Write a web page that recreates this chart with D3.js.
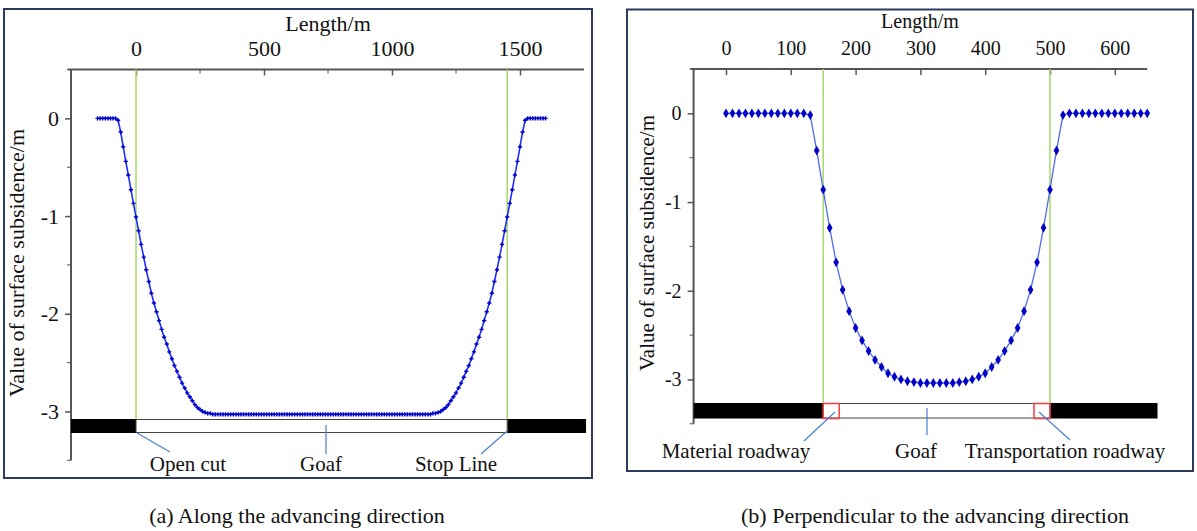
<!DOCTYPE html>
<html>
<head>
<meta charset="utf-8">
<script src="https://cdn.jsdelivr.net/npm/d3@7"></script>
<style>
  body { margin: 0; background: #fff; }
  svg text { font-family: "Liberation Serif", "Times New Roman", "DejaVu Serif", serif; fill: #111; }
</style>
</head>
<body>
<script>
// (a) along the advancing direction: x from -150 m, every 10 m
var startA = -150, stepA = 10;
var subsA = [
  0, 0, 0, 0, 0, 0, 0, 0, -0.02, -0.14,
  -0.29, -0.44, -0.58, -0.73, -0.87, -1.01, -1.15, -1.29, -1.42, -1.55,
  -1.67, -1.79, -1.89, -1.98, -2.07, -2.16, -2.24, -2.31, -2.39, -2.46,
  -2.53, -2.59, -2.65, -2.71, -2.76, -2.81, -2.85, -2.89, -2.93, -2.96,
  -2.98, -3.00, -3.01, -3.02, -3.02,
  -3.03, -3.03, -3.03, -3.03, -3.03, -3.03, -3.03, -3.03, -3.03, -3.03,
  -3.03, -3.03, -3.03, -3.03, -3.03, -3.03, -3.03, -3.03, -3.03, -3.03,
  -3.03, -3.03, -3.03, -3.03, -3.03, -3.03, -3.03, -3.03, -3.03, -3.03,
  -3.03, -3.03, -3.03, -3.03, -3.03, -3.03, -3.03, -3.03, -3.03, -3.03,
  -3.03, -3.03, -3.03, -3.03, -3.03, -3.03, -3.03, -3.03, -3.03, -3.03,
  -3.03, -3.03, -3.03, -3.03, -3.03, -3.03, -3.03, -3.03, -3.03, -3.03,
  -3.03, -3.03, -3.03, -3.03, -3.03, -3.03, -3.03, -3.03, -3.03, -3.03,
  -3.03, -3.03, -3.03, -3.03, -3.03, -3.03, -3.03, -3.03, -3.03, -3.03,
  -3.03, -3.03, -3.03, -3.03, -3.03, -3.03,
  -3.02, -3.02, -3.01, -3.00, -2.98,
  -2.96, -2.93, -2.89, -2.85, -2.81, -2.76, -2.71, -2.65, -2.59, -2.53,
  -2.46, -2.39, -2.31, -2.24, -2.16, -2.07, -1.98, -1.89, -1.79, -1.67,
  -1.55, -1.42, -1.29, -1.15, -1.01, -0.87, -0.73, -0.58, -0.44, -0.29,
  -0.14, -0.02, 0, 0, 0, 0, 0, 0, 0, 0
];
var ticksA = [0, 500, 1000, 1500];
var minorA = [250, 750, 1250];
var linesA = [0, 1450];   // open cut, stop line

// (b) perpendicular to the advancing direction: x from 0 m, every 10 m
var startB = 0, stepB = 10;
var subsB = [
  0, 0, 0, 0, 0, 0, 0, 0, 0, 0,
  0, 0, 0, -0.02, -0.42, -0.86, -1.29, -1.68, -1.99, -2.23,
  -2.42, -2.56, -2.68, -2.78, -2.86, -2.93, -2.97, -3.00, -3.02, -3.03,
  -3.04, -3.04, -3.04, -3.04, -3.04, -3.04, -3.03, -3.02, -3.00, -2.97,
  -2.93, -2.86, -2.78, -2.68, -2.56, -2.42, -2.23, -1.99, -1.68, -1.29,
  -0.86, -0.42, -0.02, 0, 0, 0, 0, 0, 0, 0,
  0, 0, 0, 0, 0, 0
];
var ticksB = [0, 100, 200, 300, 400, 500, 600];
var linesB = [150, 500];  // material roadway, transportation roadway

var yTicks = [0, -1, -2, -3];
var yMinor = [0.5, -0.5, -1.5, -2.5, -3.5];

var serif = "'Liberation Serif', 'Times New Roman', 'DejaVu Serif', serif";

var svg = d3.select("body").append("svg")
    .attr("width", 1197)
    .attr("height", 531);

var axisColor = "#555";
var green = "#a6d96a";
var fmt = function (d) { return String(d); };   // plain hyphen for negatives

function panel(o) {
  var g = svg.append("g");
  var x = d3.scaleLinear().domain(o.xDomain).range(o.xRange);
  var y = d3.scaleLinear().domain([0.5, -3.5]).range(o.yRange);

  g.append("rect")
      .attr("x", o.box[0]).attr("y", o.box[1])
      .attr("width", o.box[2]).attr("height", o.box[3])
      .attr("fill", "none").attr("stroke", "#2c3b5c").attr("stroke-width", 2);

  // top axis
  var top = g.append("g").attr("transform", "translate(0," + o.yRange[0] + ")");
  top.call(d3.axisTop(x).tickValues(o.ticks).tickSize(-6).tickPadding(14).tickFormat(fmt));
  top.attr("font-family", serif);
  if (o.minor) {
    top.selectAll(".minor").data(o.minor).enter().append("line")
        .attr("x1", function (d) { return x(d); }).attr("x2", function (d) { return x(d); })
        .attr("y1", 0).attr("y2", 4).attr("stroke", axisColor);
  }
  top.select(".domain").attr("stroke", axisColor).attr("stroke-width", 2)
      .attr("d", "M" + (o.xRange[0] - 3) + ",0H" + o.xRange[1]);
  top.selectAll(".tick line").attr("stroke", axisColor).attr("stroke-width", 1.5);
  top.selectAll(".tick text").style("font-size", o.font + "px").attr("fill", "#111");

  g.append("text").attr("x", o.titleX).attr("y", o.titleY)
      .attr("text-anchor", "middle").style("font-size", o.font + "px").text("Length/m");

  // left axis
  var left = g.append("g").attr("transform", "translate(" + o.xRange[0] + ",0)");
  left.call(d3.axisLeft(y).tickValues(yTicks).tickSize(6).tickPadding(6).tickFormat(fmt));
  left.attr("font-family", serif);
  left.selectAll(".minor").data(yMinor).enter().append("line")
      .attr("y1", function (d) { return y(d); }).attr("y2", function (d) { return y(d); })
      .attr("x1", 0).attr("x2", -4).attr("stroke", axisColor);
  left.select(".domain").attr("stroke", axisColor).attr("stroke-width", 2)
      .attr("d", "M0," + o.yRange[0] + "V" + o.yRange[1]);
  left.selectAll(".tick line").attr("stroke", axisColor).attr("stroke-width", 1.5);
  left.selectAll(".tick text").style("font-size", o.font + "px").attr("fill", "#111");

  g.append("text")
      .attr("transform", "translate(" + o.ylabX + "," + o.ylabY + ") rotate(-90)")
      .attr("text-anchor", "middle").style("font-size", o.ylabFont + "px")
      .text("Value of surface subsidence/m");

  // strata bar
  var barTop = o.bar[0], barBot = o.bar[1];
  g.append("rect").attr("x", o.xRange[0]).attr("y", barTop)
      .attr("width", x(o.lines[0]) - o.xRange[0]).attr("height", barBot - barTop).attr("fill", "#000");
  g.append("rect").attr("x", x(o.lines[1])).attr("y", barTop)
      .attr("width", o.barEnd - x(o.lines[1])).attr("height", barBot - barTop).attr("fill", "#000");
  g.append("rect").attr("x", x(o.lines[0])).attr("y", barTop + 0.5)
      .attr("width", x(o.lines[1]) - x(o.lines[0])).attr("height", barBot - barTop - 1)
      .attr("fill", "#fff").attr("stroke", "#444").attr("stroke-width", 1);

  // green boundary lines
  g.selectAll(".gl").data(o.lines).enter().append("line")
      .attr("x1", function (d) { return x(d); }).attr("x2", function (d) { return x(d); })
      .attr("y1", o.yRange[0]).attr("y2", barTop)
      .attr("stroke", green).attr("stroke-width", 1.5);

  // curve
  var pts = o.values.map(function (v, i) { return { x: o.start + i * o.step, y: v }; });
  g.append("path").datum(pts)
      .attr("fill", "none").attr("stroke", o.lineColor).attr("stroke-width", o.lineWidth)
      .attr("d", d3.line().x(function (d) { return x(d.x); }).y(function (d) { return y(d.y); }));
  g.selectAll(".pt").data(pts).enter().append("path")
      .attr("transform", function (d) { return "translate(" + x(d.x) + "," + y(d.y) + ")"; })
      .attr("d", d3.symbol().type(o.symbol).size(o.symbolSize))
      .attr("fill", "#0000c8");

  return { g: g, x: x, y: y };
}

var a = panel({
  box: [4, 9, 588, 469],
  xDomain: [-254, 1750], xRange: [71, 584], yRange: [69.5, 460.3],
  ticks: ticksA, minor: minorA, lines: linesA,
  font: 22, ylabFont: 22, titleX: 328, titleY: 31, ylabX: 24, ylabY: 263,
  bar: [419, 433], barEnd: 586,
  values: subsA, start: startA, step: stepA,
  lineColor: "#1f2fff", lineWidth: 1.6, symbol: d3.symbolCross, symbolSize: 10
});

var b = panel({
  box: [627, 9.5, 566, 461.5],
  xDomain: [-50, 650], xRange: [693.6, 1147.2], yRange: [69, 423.8],
  ticks: ticksB, minor: null, lines: linesB,
  font: 20, ylabFont: 21, titleX: 920, titleY: 28, ylabX: 654, ylabY: 243,
  bar: [403, 418.5], barEnd: 1157.5,
  values: subsB, start: startB, step: stepB,
  lineColor: "#4d6bea", lineWidth: 1.3, symbol: d3.symbolDiamond, symbolSize: 28
});

// roadway squares in (b)
b.g.selectAll(".road").data([linesB[0], linesB[1]]).enter().append("rect")
    .attr("x", function (d, i) { return i === 0 ? b.x(d) : b.x(d) - 16; })
    .attr("y", 403.5).attr("width", 16).attr("height", 15)
    .attr("fill", "none").attr("stroke", "#f04040").attr("stroke-width", 1.5);

// leader lines and labels
var leader = "#4a7fd0";
function label(g, x1, y1, x2, y2, tx, ty, txt, fs) {
  g.append("line").attr("x1", x1).attr("y1", y1).attr("x2", x2).attr("y2", y2)
      .attr("stroke", leader).attr("stroke-width", 1.2);
  g.append("text").attr("x", tx).attr("y", ty).attr("text-anchor", "middle")
      .style("font-size", fs + "px").text(txt);
}
label(a.g, a.x(0) + 1, 433, 170, 452, 188, 471, "Open cut", 21);
label(a.g, 326, 425, 326, 454, 321, 471, "Goaf", 21);
label(a.g, a.x(1450), 431, 481, 454, 456, 471, "Stop Line", 21);

label(b.g, 835, 412, 804, 441, 736, 458, "Material roadway", 21);
label(b.g, 927, 408, 927, 435, 916, 458, "Goaf", 21);
label(b.g, 1039, 412, 1070, 440, 1065, 458, "Transportation roadway", 21);

// captions
svg.append("text").attr("x", 297).attr("y", 523).attr("text-anchor", "middle")
    .style("font-size", "22px").text("(a) Along the advancing direction");
svg.append("text").attr("x", 935).attr("y", 523).attr("text-anchor", "middle")
    .style("font-size", "22px").text("(b) Perpendicular to the advancing direction");
</script>
</body>
</html>
